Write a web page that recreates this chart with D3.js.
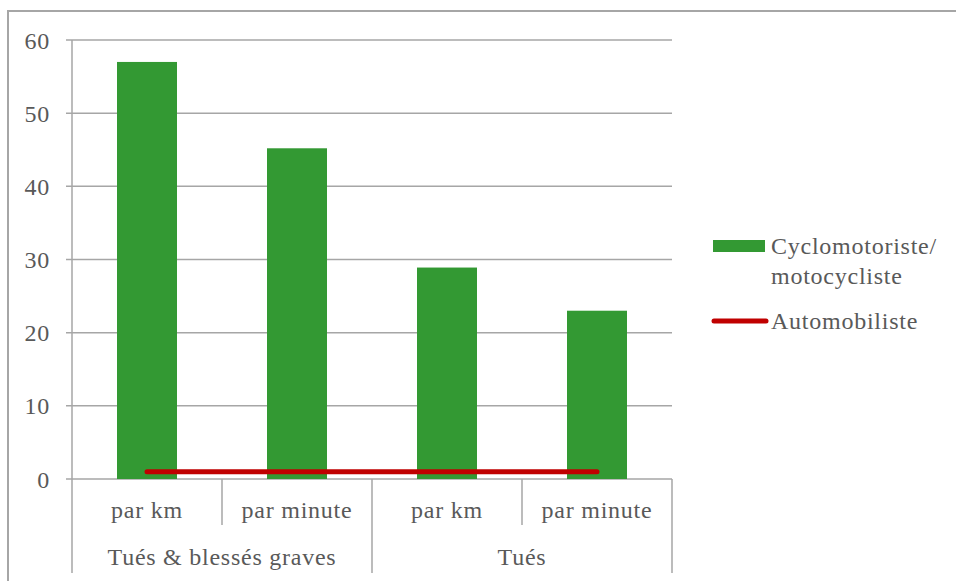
<!DOCTYPE html>
<html><head><meta charset="utf-8">
<script src="https://cdn.jsdelivr.net/npm/d3@7"></script>
<style>
html,body{margin:0;padding:0;background:#fff;}
svg{display:block;}
text{font-family:"Liberation Serif","Times New Roman",serif;fill:#595959;font-size:24px;letter-spacing:0.75px;}
</style></head>
<body>
<script>
const categories = ["par km", "par minute", "par km", "par minute"];
const groups = ["Tués & blessés graves", "Tués"];
const groupSizes = [2, 2];
const motoValues = [57, 45.2, 28.9, 23];
const autoValues = [1, 1, 1, 1];
const yTicks = [0, 10, 20, 30, 40, 50, 60];
const seriesNames = ["Cyclomotoriste/\nmotocycliste", "Automobiliste"];

const W = 956, H = 581;
const svg = d3.select("body").append("svg").attr("width", W).attr("height", H);
const grid = "#a6a6a6";

// chart border
svg.append("path").attr("d", `M8,582 L8,11 L960,11`).attr("fill","none").attr("stroke",grid).attr("stroke-width",2);

const x0 = 72, x1 = 672;
const y = d3.scaleLinear().domain([0, 60]).range([479, 40]);
const x = d3.scaleBand().domain(d3.range(categories.length)).range([x0, x1]).paddingInner(0.6).paddingOuter(0.3);
const step = x.step();

// gridlines
svg.append("g").selectAll("line").data(yTicks).join("line")
  .attr("x1", x0 - 6).attr("x2", x1)
  .attr("y1", d => y(d)).attr("y2", d => y(d))
  .attr("stroke", grid).attr("stroke-width", 1.5);

// y labels
svg.append("g").selectAll("text").data(yTicks).join("text")
  .attr("x", 50).attr("y", d => y(d) + 8.5)
  .attr("text-anchor", "end").text(d => d);

// y axis line
svg.append("line").attr("x1", x0).attr("x2", x0).attr("y1", y(60)).attr("y2", y(0))
  .attr("stroke", grid).attr("stroke-width", 1.5);

// bars
svg.append("g").selectAll("rect").data(motoValues).join("rect")
  .attr("x", (d, i) => x(i)).attr("width", x.bandwidth())
  .attr("y", d => y(d)).attr("height", d => y(0) - y(d))
  .attr("fill", "#339933");

// line series
const cx = i => x(i) + x.bandwidth() / 2;
svg.append("path").datum(autoValues)
  .attr("d", d3.line().x((d, i) => cx(i)).y(d => y(d)))
  .attr("fill", "none").attr("stroke", "#c00000").attr("stroke-width", 5).attr("stroke-linecap", "round");

// category axis separators
const sep = svg.append("g");
let boundaries = [0];
groupSizes.reduce((acc, s) => { boundaries.push(acc + s); return acc + s; }, 0);
for (let i = 0; i <= categories.length; i++) {
  const xx = x0 + i * step;
  const isGroup = boundaries.includes(i);
  sep.append("line").attr("x1", xx).attr("x2", xx).attr("y1", y(0)).attr("y2", isGroup ? 573 : 525)
    .attr("stroke", grid).attr("stroke-width", 1.5);
}
// category labels
svg.append("g").selectAll("text").data(categories).join("text")
  .attr("x", (d, i) => x0 + (i + 0.5) * step).attr("y", 518)
  .attr("text-anchor", "middle").text(d => d);
// group labels
svg.append("g").selectAll("text").data(groups).join("text")
  .attr("x", (d, i) => x0 + (boundaries[i] + groupSizes[i] / 2) * step).attr("y", 565)
  .attr("text-anchor", "middle").text(d => d);

// legend
const lg = svg.append("g");
lg.append("rect").attr("x", 713).attr("y", 240).attr("width", 52).attr("height", 12).attr("fill", "#339933");
const lines = seriesNames[0].split("\n");
lines.forEach((t, i) => lg.append("text").attr("x", 771).attr("y", 254 + i * 30).text(t));
lg.append("line").attr("x1", 714).attr("x2", 766).attr("y1", 321).attr("y2", 321)
  .attr("stroke", "#c00000").attr("stroke-width", 5).attr("stroke-linecap", "round");
lg.append("text").attr("x", 771).attr("y", 329).text(seriesNames[1]);
</script>
</body></html>
